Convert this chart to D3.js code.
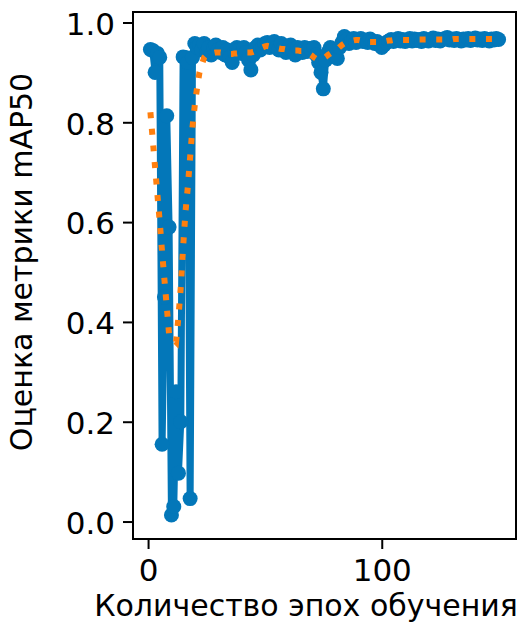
<!DOCTYPE html>
<html><head><meta charset="utf-8">
<script src="https://cdn.jsdelivr.net/npm/d3@7/dist/d3.min.js"></script>
<style>body{margin:0;background:#fff}svg{display:block}text{font-family:"DejaVu Sans",sans-serif;fill:#000}</style>
</head><body><svg id="c" width="520" height="628"></svg>
<script>
const epochs = d3.range(1, 151);
const map50 = [
0.946,0.944,0.900,0.938,0.930,0.155,0.450,0.813,0.590,0.013,
0.030,0.260,0.097,0.200,0.931,0.930,0.920,0.046,0.930,0.958,
0.950,0.955,0.945,0.958,0.940,0.950,0.935,0.948,0.955,0.945,
0.940,0.950,0.935,0.945,0.930,0.920,0.940,0.950,0.945,0.938,
0.950,0.940,0.925,0.905,0.935,0.950,0.955,0.945,0.950,0.958,
0.960,0.950,0.955,0.962,0.950,0.945,0.958,0.950,0.940,0.948,
0.955,0.945,0.935,0.950,0.945,0.940,0.950,0.942,0.948,0.945,
0.950,0.935,0.920,0.900,0.867,0.925,0.940,0.950,0.945,0.935,
0.928,0.950,0.960,0.972,0.965,0.958,0.962,0.968,0.960,0.965,
0.968,0.962,0.965,0.960,0.967,0.963,0.958,0.962,0.955,0.950,
0.955,0.960,0.963,0.966,0.962,0.965,0.968,0.963,0.966,0.962,
0.965,0.968,0.963,0.967,0.964,0.966,0.962,0.968,0.965,0.963,
0.966,0.969,0.964,0.967,0.963,0.966,0.968,0.970,0.965,0.967,
0.964,0.968,0.966,0.963,0.967,0.965,0.968,0.964,0.966,0.969,
0.965,0.967,0.964,0.968,0.966,0.963,0.967,0.965,0.968,0.966];
const trend = [
0.820,0.765,0.710,0.655,0.600,0.540,0.485,0.430,0.375,0.370,
0.365,0.360,0.410,0.470,0.550,0.620,0.670,0.730,0.790,0.835,
0.870,0.900,0.915,0.930,0.935,0.937,0.938,0.939,0.940,0.940,
0.940,0.939,0.938,0.937,0.937,0.937,0.938,0.938,0.939,0.940,
0.940,0.940,0.940,0.940,0.941,0.943,0.945,0.948,0.950,0.952,
0.953,0.952,0.951,0.950,0.949,0.948,0.947,0.947,0.946,0.946,
0.945,0.945,0.944,0.944,0.943,0.943,0.942,0.940,0.937,0.934,
0.930,0.927,0.926,0.926,0.928,0.931,0.935,0.938,0.940,0.943,
0.947,0.951,0.955,0.958,0.960,0.962,0.963,0.964,0.965,0.965,
0.964,0.963,0.962,0.961,0.961,0.961,0.961,0.961,0.962,0.962,
0.963,0.963,0.964,0.964,0.965,0.965,0.965,0.965,0.965,0.965,
0.965,0.965,0.965,0.965,0.966,0.966,0.966,0.966,0.966,0.966,
0.966,0.966,0.966,0.966,0.966,0.966,0.966,0.966,0.966,0.966,
0.967,0.967,0.967,0.967,0.967,0.967,0.967,0.967,0.967,0.967,
0.967,0.967,0.967,0.967,0.967,0.967,0.967,0.967,0.967,0.967];
const xTicks = [0, 100];
const yTicks = [0.0, 0.2, 0.4, 0.6, 0.8, 1.0];
const xLabel = "Количество эпох обучения";
const yLabel = "Оценка метрики mAP50";

const L = 133, R = 516, T = 12, B = 539;
const svg = d3.select("#c");
const x = d3.scaleLinear().domain([-6.45, 157.45]).range([L, R]);
const y = d3.scaleLinear().domain([-0.035, 1.021]).range([B, T]);
const blue = "#0377b9", orange = "#ff7f0e";

const pts = epochs.map((e, i) => [e, map50[i]]);
const tr = epochs.map((e, i) => [e, trend[i]]);
const line = d3.line().x(d => x(d[0])).y(d => y(d[1]));

svg.append("path").datum(pts).attr("d", line)
  .attr("fill", "none").attr("stroke", blue).attr("stroke-width", 7).attr("stroke-linejoin", "round");
svg.append("g").selectAll("circle").data(pts).join("circle")
  .attr("cx", d => x(d[0])).attr("cy", d => y(d[1])).attr("r", 7.5).attr("fill", blue);
svg.append("path").datum(tr).attr("d", line)
  .attr("fill", "none").attr("stroke", orange).attr("stroke-width", 6).attr("stroke-dasharray", "6,10.6");

svg.append("rect").attr("x", L).attr("y", T).attr("width", R - L).attr("height", B - T)
  .attr("fill", "none").attr("stroke", "#000").attr("stroke-width", 2);

const xa = svg.append("g").attr("transform", `translate(0,${B})`)
  .call(d3.axisBottom(x).tickValues(xTicks).tickSize(10).tickPadding(10).tickFormat(d3.format("d")));
const ya = svg.append("g").attr("transform", `translate(${L},0)`)
  .call(d3.axisLeft(y).tickValues(yTicks).tickSize(10).tickPadding(8).tickFormat(d3.format(".1f")));
[xa, ya].forEach(a => {
  a.select(".domain").remove();
  a.selectAll("line").attr("stroke", "#000").attr("stroke-width", 2);
  a.selectAll("text").attr("font-size", 31).attr("font-family", "DejaVu Sans");
});
ya.selectAll("text").attr("dy", "0.38em");
xa.selectAll("text").attr("dy", "0.71em");

svg.append("text").attr("x", 306).attr("y", 616).attr("text-anchor", "middle")
  .attr("font-size", 30).text(xLabel);
svg.append("text").attr("transform", "translate(32,262) rotate(-90)").attr("text-anchor", "middle")
  .attr("font-size", 30).text(yLabel);
</script></body></html>
